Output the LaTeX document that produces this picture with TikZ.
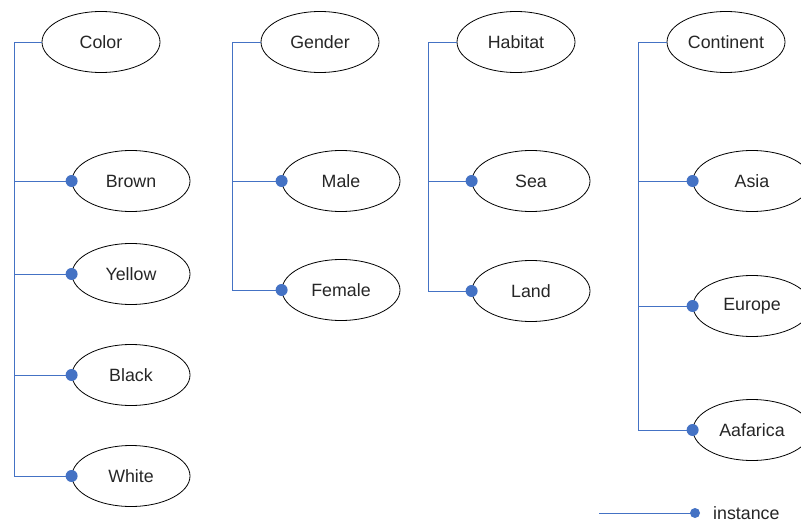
\documentclass[tikz,border=0pt]{standalone}
\usepackage{fontspec}
\setmainfont{Liberation Sans}
\usetikzlibrary{shapes.geometric}
\definecolor{linkblue}{HTML}{4472C4}
\begin{document}
\begin{tikzpicture}[x=1pt,y=-1pt,
  term/.style={ellipse,draw=black,line width=0.8pt,minimum width=118pt,minimum height=61pt,inner sep=0pt,font=\fontsize{17.8}{19}\selectfont,text=black!85},
  link/.style={draw=linkblue,line width=0.9pt},
  tip/.style={fill=linkblue}]
\useasboundingbox (0,0) rectangle (801,522);
\clip (0,0) rectangle (801,522);

% Color
\node[term] (color) at (101,42) {Color};
\node[term] (brown) at (131,181) {Brown};
\node[term] (yellow) at (131,274) {Yellow};
\node[term] (black) at (131,375) {Black};
\node[term] (white) at (131,476) {White};
\coordinate (t1) at (14.5,0);

% Gender
\node[term] (gender) at (320,42) {Gender};
\node[term] (male) at (341,181) {Male};
\node[term] (female) at (341,290) {Female};
\coordinate (t2) at (232,0);

% Habitat
\node[term] (habitat) at (516,42) {Habitat};
\node[term] (sea) at (531,181) {Sea};
\node[term] (land) at (531,291) {Land};
\coordinate (t3) at (428,0);

% Continent
\node[term] (continent) at (726,42) {Continent};
\node[term] (asia) at (752,181) {Asia};
\node[term] (europe) at (752,306) {Europe};
\node[term] (africa) at (752,430) {Aafarica};
\coordinate (t4) at (638,0);

% trunks
\draw[link] (color.west) -| (t1 |- white.west) -- (white.west);
\draw[link] (gender.west) -| (t2 |- female.west) -- (female.west);
\draw[link] (habitat.west) -| (t3 |- land.west) -- (land.west);
\draw[link] (continent.west) -| (t4 |- africa.west) -- (africa.west);

% branches
\foreach \t/\n in {t1/brown,t1/yellow,t1/black,t2/male,t3/sea,t4/asia,t4/europe}
  \draw[link] (\t |- \n.west) -- (\n.west);

% instance dots
\foreach \n in {brown,yellow,black,white,male,female,sea,land,asia,europe,africa}
  \fill[tip] (\n.west) circle (6);

% legend
\coordinate (lg) at (599,513);
\coordinate (lgdot) at (695,513);
\node[anchor=west,inner sep=0pt,font=\fontsize{17.8}{19}\selectfont,text=black!85] (inst) at (713,513) {instance};
\draw[link] (lg) -- (lgdot);
\fill[tip] (lgdot) circle (5);
\end{tikzpicture}
\end{document}
